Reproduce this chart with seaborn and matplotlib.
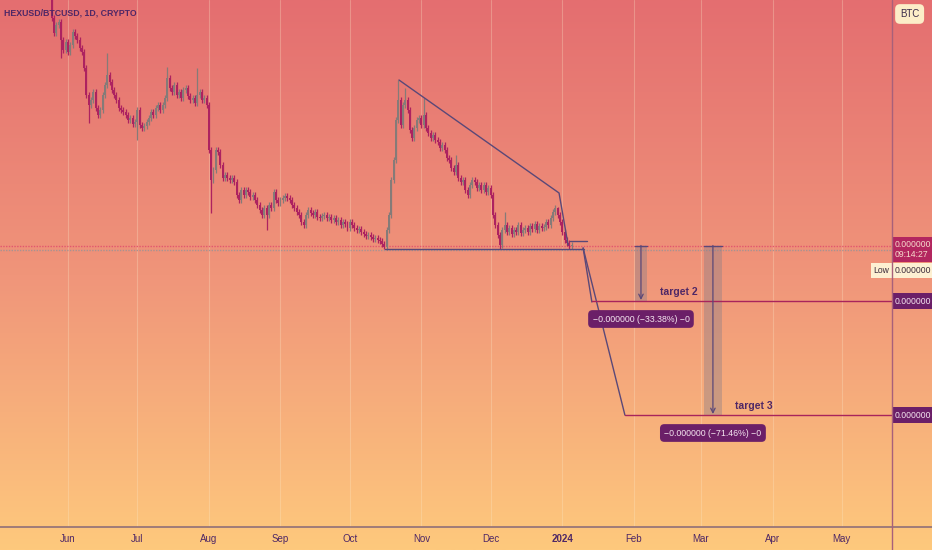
import numpy as np
import pandas as pd
import seaborn as sns
import matplotlib.pyplot as plt
import matplotlib.dates as mdates
from matplotlib.colors import LinearSegmentedColormap
from matplotlib.lines import Line2D

# HEX/BTC daily candles, prices in units of 1e-10 BTC
start_day = "2023-05-25"
first_open = 560
closes = [
    512, 497, 505, 508, 490, 480, 488, 478,
    485, 498, 494, 490, 482, 478, 462, 435, 425, 430,
    438, 422, 415, 420, 435, 445, 455, 448, 440, 435,
    430, 422, 420, 418, 415, 410, 412, 406, 408, 420,
    405, 402, 404, 408, 412, 418, 415, 422, 425, 420,
    425, 432, 452, 442, 438, 445, 435, 438, 432, 440,
    442, 434, 430, 432, 427, 435, 438, 430, 432, 425,
    380, 350, 360, 380, 378, 365, 352, 355, 352, 350,
    352, 348, 335, 330, 340, 335, 340, 338, 333, 335,
    330, 325, 320, 315, 322, 315, 325, 322, 338, 330,
    327, 330, 332, 334, 332, 330, 325, 322, 318, 315,
    308, 305, 315, 320, 317, 315, 318, 313, 312, 314,
    315, 312, 313, 310, 312, 308, 310, 305, 308, 306,
    302, 308, 305, 302, 300, 301, 298, 296, 294, 295,
    293, 291, 292, 290, 289, 286, 283, 300, 315, 350,
    370, 410, 430, 405, 425, 430, 420, 400, 392, 402,
    410, 412, 405, 415, 402, 397, 392, 395, 390, 388,
    382, 385, 380, 372, 370, 362, 358, 365, 352, 348,
    350, 340, 335, 345, 350, 348, 342, 345, 340, 345,
    338, 342, 335, 315, 305, 295, 285, 300, 305, 298,
    302, 296, 300, 298, 305, 297, 300, 302, 298, 304,
    301, 306, 300, 304, 302, 303, 308, 305, 312, 318,
    322, 315, 308, 298, 290, 287, 284, 285,
]
wick_highs = {
    "2023-06-18": 477, "2023-07-14": 463, "2023-07-27": 462,
    "2023-10-22": 450, "2023-10-25": 442, "2023-11-02": 432,
    "2023-11-16": 375, "2023-12-07": 318, "2023-12-30": 323,
}
wick_lows = {
    "2023-05-29": 472, "2023-06-10": 407, "2023-07-01": 390,
    "2023-08-02": 317, "2023-08-26": 300, "2023-10-16": 281,
    "2023-12-05": 281, "2024-01-04": 281,
}

month_ticks = pd.date_range("2023-06-01", "2024-05-01", freq="MS")
month_labels = ["Jun", "Jul", "Aug", "Sep", "Oct", "Nov", "Dec", "2024",
                "Feb", "Mar", "Apr", "May"]

# drawn pattern: (segment, date, price)
pattern = [
    ("top", "2023-10-22 07:00", 450), ("top", "2023-12-30 14:00", 337),
    ("top", "2024-01-03 12:00", 285),
    ("base", "2023-10-16 05:00", 281), ("base", "2024-01-10 10:00", 281),
    ("box", "2024-01-04 07:00", 289), ("box", "2024-01-11 17:00", 289),
    ("proj2", "2024-01-10 00:00", 282), ("proj2", "2024-01-13 19:00", 228),
    ("proj3", "2024-01-10 00:00", 282), ("proj3", "2024-01-28 02:00", 115),
]
current_price = 284.5
prev_close_line = 280
target_names = ["target 2", "target 3"]
target_prices = [229, 115]
target_starts = ["2024-01-13 19:00", "2024-01-28 02:00"]
target_pcts = ["\u22120.000000 (\u221233.38%) \u22120", "\u22120.000000 (\u221271.46%) \u22120"]
measure_spans = [("2024-02-01 12:00", "2024-02-06 14:00"), ("2024-03-02 07:00", "2024-03-10 02:00")]

UP = "#857b78"
DOWN = "#ad2260"
PURPLE = "#6b1f68"
TEXT = "#4e2766"

sns.set_theme(style="white")
plt.rcParams["font.family"] = ["Liberation Sans Narrow", "Liberation Sans", "DejaVu Sans"]

fig = plt.figure(figsize=(9.32, 5.5), dpi=100)

# gradient background
bg = fig.add_axes([0, 0, 1, 1], zorder=0)
cmap = LinearSegmentedColormap.from_list("bg", ["#e46e70", "#f0957a", "#fec97d"])
bg.imshow(np.linspace(0, 1, 256).reshape(-1, 1), aspect="auto", cmap=cmap, extent=[0, 1, 0, 1])
bg.axis("off")

W, H = 932, 550
ax = fig.add_axes([0, 23 / H, 892 / W, 527 / H], zorder=1)
ax.patch.set_alpha(0)
for s in ax.spines.values():
    s.set_visible(False)

d2n = lambda s: mdates.date2num(pd.Timestamp(s))

# month grid
for t in month_ticks:
    ax.axvline(mdates.date2num(t), color="#fbe8c8", lw=0.8, alpha=0.3, zorder=0)

# candles
dates = pd.date_range(start_day, periods=len(closes))
df = pd.DataFrame({"x": mdates.date2num(dates), "date": dates.strftime("%Y-%m-%d"),
                   "open": [first_open] + closes[:-1], "close": closes})
df["top"] = df[["open", "close"]].max(axis=1)
df["bot"] = df[["open", "close"]].min(axis=1)
df["high"] = df["top"] + 3
df["low"] = df["bot"] - 3
for k, v in wick_highs.items():
    df.loc[df.date == k, "high"] = v
for k, v in wick_lows.items():
    df.loc[df.date == k, "low"] = v
colors = np.where(df.close >= df.open, UP, DOWN)
ax.vlines(df.x, df.low, df.high, colors=colors, lw=0.9, zorder=3)
ax.bar(df.x, (df.top - df.bot).clip(lower=1.5), bottom=df.bot, width=0.85,
       color=colors, linewidth=0, zorder=3)

# price lines
ax.axhline(current_price, color="#e2566e", lw=1, ls=(0, (1, 1)), zorder=2)
ax.axhline(prev_close_line, color="#a69392", lw=1, ls=(0, (1, 1)), zorder=2)

# pattern lines
pat = pd.DataFrame(pattern, columns=["seg", "date", "price"])
pat["x"] = pat["date"].map(d2n)
sns.lineplot(data=pat, x="x", y="price", units="seg", estimator=None, sort=False,
             color="#5a4878", lw=1, ax=ax, zorder=4)

xmin, xmax = d2n("2023-05-02 14:00"), d2n("2024-05-22 17:00")

# target lines
for name, p, st, pct, (a, b) in zip(target_names, target_prices, target_starts,
                                      target_pcts, measure_spans):
    ax.plot([d2n(st), xmax], [p, p], color="#a8245c", lw=1, zorder=4)
    xa, xb = d2n(a), d2n(b)
    ax.fill_between([xa, xb], p, current_price, color="#8a7e88", alpha=0.4, lw=0, zorder=2)
    ax.plot([xa, xb], [current_price, current_price], color="#5a4878", lw=1, zorder=4)
    xm = (xa + xb) / 2
    ax.annotate("", xy=(xm, p + 1), xytext=(xm, current_price),
                arrowprops=dict(arrowstyle="->", color="#5a4878", lw=0.9,
                                shrinkA=0, shrinkB=0, mutation_scale=8), zorder=5)
    ax.text(xm, p - 18, pct, ha="center", va="center", fontsize=6.3, color="#f5e6f0",
            bbox=dict(boxstyle="round,pad=0.5", fc=PURPLE, ec="none"), zorder=6)
    ax.text(xb + 14, p + 9, name, ha="center", va="center", fontsize=7.5,
            color=TEXT, fontweight="bold", zorder=6)

ax.set_xlim(xmin, xmax)
ax.set_ylim(3, 530)
ax.set_yticks([])
ax.set_xticks(mdates.date2num(month_ticks))
ax.set_xticklabels(month_labels)
ax.tick_params(axis="x", length=0, pad=5, labelsize=7, labelcolor=TEXT)
for lab in ax.get_xticklabels():
    if lab.get_text() == "2024":
        lab.set_fontweight("bold")
ax.set_xlabel("")
ax.set_ylabel("")

# axis lines across whole figure
fig.add_artist(Line2D([0, 1], [23 / H, 23 / H], color="#8f6f78", lw=1.2))
fig.add_artist(Line2D([892 / W, 892 / W], [0, 1], color="#a8607a", lw=1))

# right price scale labels
ytr = ax.get_yaxis_transform()
xr = 1 + 3 / 892
lbl = dict(transform=ytr, va="center", fontsize=6.2, clip_on=False)
ax.text(xr, 280.5, "0.000000\n09:14:27", ha="left", color="#f7dccc", linespacing=1.15,
        bbox=dict(boxstyle="square,pad=0.3", fc="#b3265f", ec="none"), **lbl)
ax.text(xr, 259.5, "0.000000", ha="left", color="#3a2a3a",
        bbox=dict(boxstyle="square,pad=0.3", fc="#fdf0d2", ec="none"), **lbl)
ax.text(1 - 3 / 892, 259.5, "Low", ha="right", color="#3a2a3a",
        bbox=dict(boxstyle="square,pad=0.3", fc="#fdf0d2", ec="none"), **lbl)
for p in target_prices:
    ax.text(xr, p, "0.000000", ha="left", color="#f5e6f0",
            bbox=dict(boxstyle="square,pad=0.35", fc=PURPLE, ec="none"), **lbl)

fig.text(900 / W, 1 - 14 / H, "BTC", ha="left", va="center", fontsize=7, color="#3a2a4a",
         bbox=dict(boxstyle="round,pad=0.5", fc="#fcedc8", ec="none"))
fig.text(4 / W, 1 - 13 / H, "HEXUSD/BTCUSD, 1D, CRYPTO", ha="left", va="center",
         fontsize=6.3, color=TEXT, fontweight="bold")

fig.savefig("out.png", dpi=100)
